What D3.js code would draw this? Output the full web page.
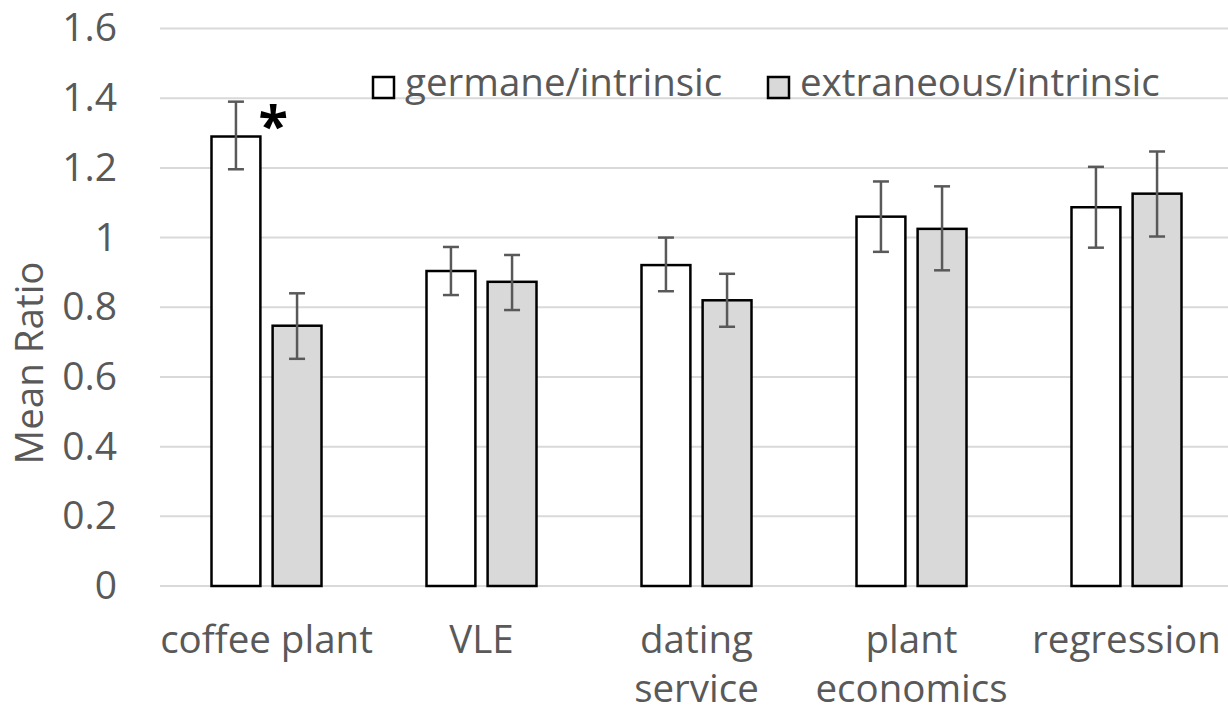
<!DOCTYPE html>
<html>
<head>
<meta charset="utf-8">
<script src="https://cdn.jsdelivr.net/npm/d3@7"></script>
<style>
  body { margin: 0; background: #fff; }
  svg text { font-family: "Open Sans", sans-serif; fill: #595959; }
</style>
</head>
<body>
<svg id="chart" width="1228" height="713"></svg>
<script>
// data
const categories = ['coffee plant', 'VLE', 'dating service', 'plant economics', 'regression']
const categoryLines = [['coffee plant'], ['VLE'], ['dating', 'service'], ['plant', 'economics'], ['regression']]
const series = ['germane/intrinsic', 'extraneous/intrinsic']
const germane = [1.29, 0.904, 0.921, 1.06, 1.087]
const germaneLow = [1.196, 0.835, 0.846, 0.959, 0.971]
const germaneHigh = [1.39, 0.973, 1.0, 1.161, 1.203]
const extraneous = [0.747, 0.873, 0.82, 1.025, 1.126]
const extraneousLow = [0.652, 0.792, 0.744, 0.906, 1.003]
const extraneousHigh = [0.84, 0.95, 0.896, 1.147, 1.247]
const yTicks = [0, 0.2, 0.4, 0.6, 0.8, 1, 1.2, 1.4, 1.6]
const fills = ['#ffffff', '#d9d9d9']

const svg = d3.select('#chart')
const width = 1228
const fontSize = 38.5

const yScale = d3.scaleLinear()
  .domain([0, 1.6])
  .range([586, 28.5])

const xScale = d3.scaleBand()
  .domain(categories)
  .range([159, 1234])

const xInner = d3.scaleBand()
  .domain(series)
  .range([-55, 55])
  .paddingInner(0.2)

// gridlines
svg.append('g')
  .selectAll('line')
  .data(yTicks)
  .enter()
  .append('line')
  .attr('x1', 160)
  .attr('x2', width)
  .attr('y1', d => yScale(d))
  .attr('y2', d => yScale(d))
  .attr('stroke', '#d9d9d9')
  .attr('stroke-width', 2)

// y axis labels
const yAxis = svg.append('g')
  .attr('transform', 'translate(117, 0)')
  .call(d3.axisLeft(yScale).tickValues(yTicks).tickSize(0).tickPadding(0).tickFormat(d3.format('')))
yAxis.select('.domain').remove()
yAxis.selectAll('text')
  .attr('font-size', 39)
  .attr('font-family', '"Open Sans", sans-serif')
  .attr('fill', '#595959')

svg.append('text')
  .attr('transform', 'translate(43, 363) rotate(-90)')
  .attr('text-anchor', 'middle')
  .attr('font-size', fontSize)
  .text('Mean Ratio')

// bars
const rows = categories.map((c, i) => [
  { cat: c, s: series[0], v: germane[i], lo: germaneLow[i], hi: germaneHigh[i] },
  { cat: c, s: series[1], v: extraneous[i], lo: extraneousLow[i], hi: extraneousHigh[i] }
])

const groups = svg.selectAll('.group')
  .data(rows)
  .enter()
  .append('g')
  .attr('class', 'group')
  .attr('transform', d => `translate(${xScale(d[0].cat) + xScale.bandwidth() / 2}, 0)`)

groups.selectAll('rect')
  .data(d => d)
  .enter()
  .append('rect')
  .attr('x', d => xInner(d.s))
  .attr('width', xInner.bandwidth())
  .attr('y', d => yScale(d.v))
  .attr('height', d => yScale(0) - yScale(d.v))
  .attr('fill', (d, i) => fills[i])
  .attr('stroke', '#000')
  .attr('stroke-width', 2.5)

// error bars
const err = groups.selectAll('.err')
  .data(d => d)
  .enter()
  .append('g')
  .attr('class', 'err')
  .attr('stroke', '#595959')
  .attr('stroke-width', 2.5)

const cx = d => xInner(d.s) + xInner.bandwidth() / 2
err.append('line')
  .attr('x1', cx).attr('x2', cx)
  .attr('y1', d => yScale(d.lo)).attr('y2', d => yScale(d.hi))
err.append('line')
  .attr('x1', d => cx(d) - 8).attr('x2', d => cx(d) + 8)
  .attr('y1', d => yScale(d.lo)).attr('y2', d => yScale(d.lo))
err.append('line')
  .attr('x1', d => cx(d) - 8).attr('x2', d => cx(d) + 8)
  .attr('y1', d => yScale(d.hi)).attr('y2', d => yScale(d.hi))

// significance marker on coffee plant
svg.append('text')
  .attr('x', xScale(categories[0]) + xScale.bandwidth() / 2 + xInner(series[0]) + xInner.bandwidth() - 2)
  .attr('y', yScale(germaneHigh[0]) + 43)
  .attr('font-size', 54)
  .attr('font-weight', 'bold')
  .style('fill', '#000')
  .text('*')

// category labels
svg.append('g')
  .selectAll('text')
  .data(categories)
  .enter()
  .append('text')
  .attr('x', d => xScale(d) + xScale.bandwidth() / 2)
  .attr('y', 653)
  .attr('text-anchor', 'middle')
  .attr('font-size', fontSize)
  .each(function(d, i) {
    categoryLines[i].forEach((line, j) => {
      d3.select(this).append('tspan')
        .attr('x', xScale(d) + xScale.bandwidth() / 2)
        .attr('dy', j === 0 ? 0 : 49)
        .text(line)
    })
  })

// legend
const legendX = [373, 768]
const legend = svg.append('g')
series.forEach((s, i) => {
  legend.append('rect')
    .attr('x', legendX[i])
    .attr('y', 77)
    .attr('width', 21)
    .attr('height', 21)
    .attr('fill', fills[i])
    .attr('stroke', '#000')
    .attr('stroke-width', 2.5)
  legend.append('text')
    .attr('x', legendX[i] + 32)
    .attr('y', 96)
    .attr('font-size', fontSize)
    .text(s)
})
</script>
</body>
</html>
